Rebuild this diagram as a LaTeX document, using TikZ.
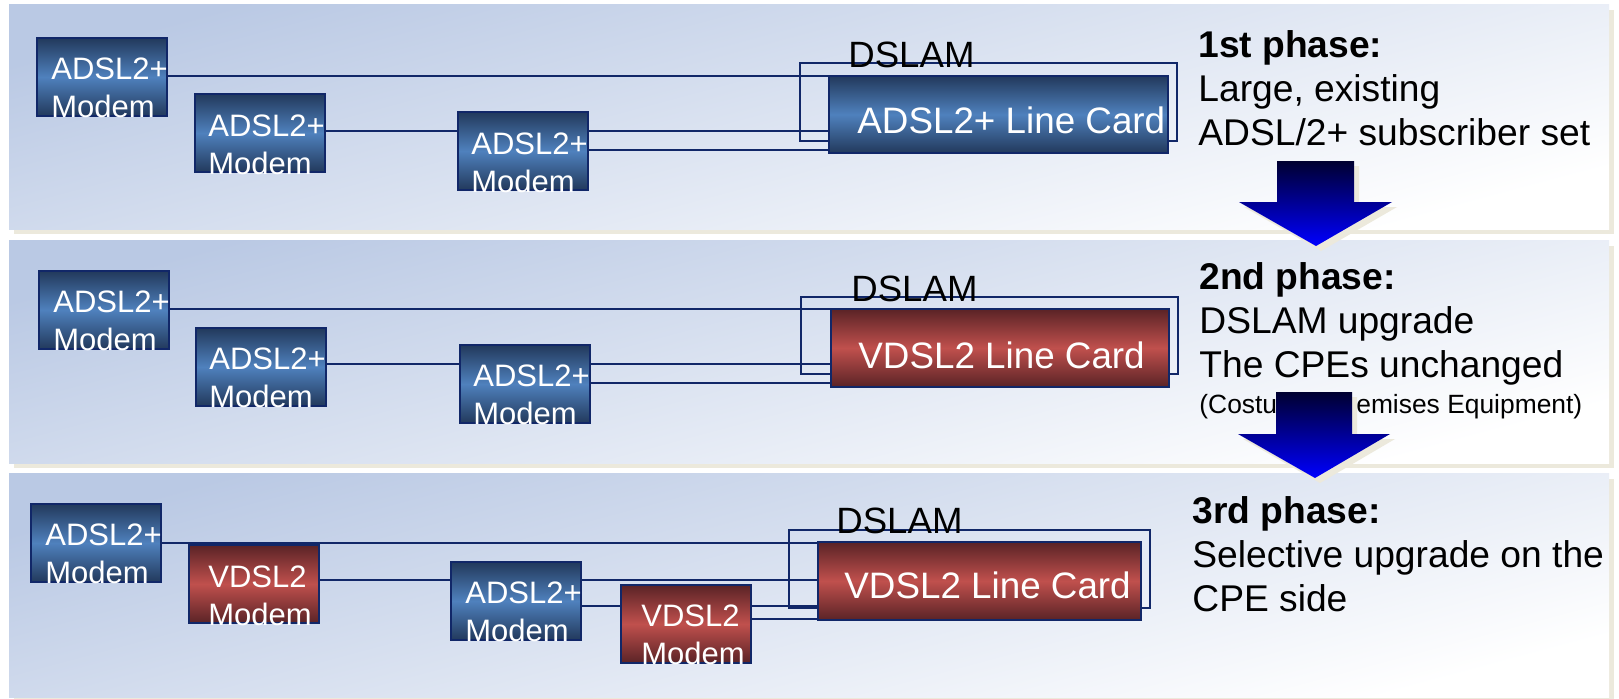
\documentclass[tikz,border=0pt]{standalone}
\usepackage{fontspec}
\setmainfont{Liberation Sans}
\usetikzlibrary{calc}
\definecolor{navy}{HTML}{112768}
\definecolor{pantop}{HTML}{BAC9E4}
\definecolor{shadowc}{HTML}{ECE9DC}
\definecolor{bdark}{HTML}{22395C}
\definecolor{bmid}{HTML}{4F81BD}
\definecolor{rdark}{HTML}{5A2326}
\definecolor{rmid}{HTML}{C0504D}
\definecolor{arrtop}{HTML}{000030}
\definecolor{arrbot}{HTML}{0000FF}
\newcommand{\twol}[2]{\begin{tabular}[t]{@{}l@{}}#1\\#2\end{tabular}}
\begin{document}
\begin{tikzpicture}[x=0.5pt,y=-0.5pt,
  panelshade/.style={top color=pantop, bottom color=white, shading angle=15},
  modembox/.style={draw=navy, line width=1pt, minimum width=65pt, minimum height=39pt, inner sep=0pt, anchor=north west},
  blueg/.style={top color=bdark, bottom color=bdark, middle color=bmid},
  redg/.style={top color=rdark, bottom color=rdark, middle color=rmid},
  mtext/.style={text=white, font=\fontsize{15.5}{19}\selectfont, inner sep=0pt, anchor=base west},
  wire/.style={draw=navy, line width=1.2pt},
  dslambox/.style={draw=navy, line width=1pt, inner sep=0pt, anchor=north west},
  dtext/.style={font=\fontsize{18.3}{22}\selectfont, inner sep=0pt, anchor=base west},
  ctext/.style={text=white, font=\fontsize{18.4}{22}\selectfont, inner sep=0pt, anchor=base west},
  ptext/.style={font=\fontsize{18.6}{22.2}\selectfont, inner sep=0pt, anchor=base west},
  stext/.style={font=\fontsize{13.2}{16}\selectfont, inner sep=0pt, anchor=base west},
  arrowshade/.style={top color=arrtop, bottom color=arrbot}
]
\useasboundingbox (0,0) rectangle (1619,698);
\fill[white] (0,0) rectangle (1619,698);

% panels with shadows
\fill[shadowc] (14,10) rectangle (1614,234);
\shade[panelshade] (9,4) rectangle (1609,229);
\fill[shadowc] (14,246) rectangle (1614,468);
\shade[panelshade] (9,240) rectangle (1609,463);
\fill[shadowc] (14,479) rectangle (1614,702);
\shade[panelshade] (9,473) rectangle (1609,697);

% ---------- panel 1 ----------
\node[dslambox, minimum width=188.5pt, minimum height=39pt] (ds1) at (799,62) {};
\node[modembox, blueg, minimum width=169.5pt, minimum height=38.5pt] (card1) at (828,75) {};
\node[modembox, blueg] (A1) at (36,37) {};
\node[modembox, blueg] (A2) at (194,93) {};
\draw[wire] (A1.east |- 0,76) -- (card1.west |- 0,76);
\draw[wire] (A2.east |- 0,131) -- (card1.west |- 0,131);
\node[modembox, blueg] (A3) at (457,111) {};
\draw[wire] (A3.east |- 0,150) -- (card1.west |- 0,150);
\node[modembox, blueg, minimum width=169.5pt, minimum height=38.5pt] (card1b) at (828,75) {};
\node[mtext] (A1t) at (51,79) {\twol{ADSL2+}{Modem}};
\node[mtext] (A2t) at (208,136) {\twol{ADSL2+}{Modem}};
\node[mtext] (A3t) at (471,154) {\twol{ADSL2+}{Modem}};
\node[dtext] (ds1t) at (848,67) {DSLAM};
\node[ctext] (card1t) at (857,133) {ADSL2+ Line Card};
\node[ptext] (p1t) at (1198,57) {\begin{tabular}[t]{@{}l@{}}\textbf{1st phase:}\\Large, existing\\ADSL/2+ subscriber set\end{tabular}};

% ---------- panel 2 ----------
\node[dslambox, minimum width=188.5pt, minimum height=38.5pt] (ds2) at (800,296) {};
\node[modembox, blueg] (B1) at (38,270) {};
\node[modembox, blueg] (B2) at (195,327) {};
\node[modembox, redg, minimum width=169pt, minimum height=39pt] (card2) at (830,308) {};
\draw[wire] (B1.east |- 0,309) -- (card2.west |- 0,309);
\draw[wire] (B2.east |- 0,364) -- (card2.west |- 0,364);
\node[modembox, blueg] (B3) at (459,344) {};
\draw[wire] (B3.east |- 0,383) -- (card2.west |- 0,383);
\node[modembox, redg, minimum width=169pt, minimum height=39pt] (card2b) at (830,308) {};
\node[mtext] (B1t) at (53,312) {\twol{ADSL2+}{Modem}};
\node[mtext] (B2t) at (209,369) {\twol{ADSL2+}{Modem}};
\node[mtext] (B3t) at (473,386) {\twol{ADSL2+}{Modem}};
\node[dtext] (ds2t) at (851,301) {DSLAM};
\node[ctext] (card2t) at (858,368) {VDSL2 Line Card};
\node[ptext] (p2t) at (1199,289) {\begin{tabular}[t]{@{}l@{}}\textbf{2nd phase:}\\DSLAM upgrade\\The CPEs unchanged\end{tabular}};
\node[stext] (p2s) at (1199,413) {(Costumer Premises Equipment)};

% ---------- panel 3 ----------
\node[dslambox, minimum width=180.5pt, minimum height=39pt] (ds3) at (788,529) {};
\node[modembox, redg, minimum width=161.5pt, minimum height=39pt] (card3) at (817,541) {};
\node[modembox, blueg] (C1) at (30,503) {};
\node[modembox, redg] (C2) at (188,544) {};
\draw[wire] (C1.east |- 0,543) -- (card3.west |- 0,543);
\draw[wire] (C2.east |- 0,580) -- (card3.west |- 0,580);
\node[modembox, blueg] (C3) at (450,561) {};
\draw[wire] (C3.east |- 0,606) -- (card3.west |- 0,606);
\node[modembox, redg] (C4) at (620,584) {};
\draw[wire] (C4.east |- 0,619) -- (card3.west |- 0,619);
\node[modembox, redg, minimum width=161.5pt, minimum height=39pt] (card3b) at (817,541) {};
\node[mtext] (C1t) at (45,545) {\twol{ADSL2+}{Modem}};
\node[mtext] (C2t) at (208,587) {\twol{VDSL2}{Modem}};
\node[mtext] (C3t) at (465,603) {\twol{ADSL2+}{Modem}};
\node[mtext] (C4t) at (641,626) {\twol{VDSL2}{Modem}};
\node[dtext] (ds3t) at (836,533) {DSLAM};
\node[ctext] (card3t) at (844,598) {VDSL2 Line Card};
\node[ptext] (p3t) at (1192,523) {\begin{tabular}[t]{@{}l@{}}\textbf{3rd phase:}\\Selective upgrade on the\\CPE side\end{tabular}};

% ---------- arrows ----------
\fill[shadowc] (1282,166) -- (1359,166) -- (1359,207) -- (1397,207) -- (1321,251) -- (1244,207) -- (1282,207) -- cycle;
\shade[arrowshade] (1277,161) -- (1354,161) -- (1354,202) -- (1392,202) -- (1316,246) -- (1239,202) -- (1277,202) -- cycle;
\fill[shadowc] (1281,397) -- (1357,397) -- (1357,439) -- (1395,439) -- (1320,483) -- (1243,439) -- (1281,439) -- cycle;
\shade[arrowshade] (1276,392) -- (1352,392) -- (1352,434) -- (1390,434) -- (1315,478) -- (1238,434) -- (1276,434) -- cycle;
\end{tikzpicture}
\end{document}
